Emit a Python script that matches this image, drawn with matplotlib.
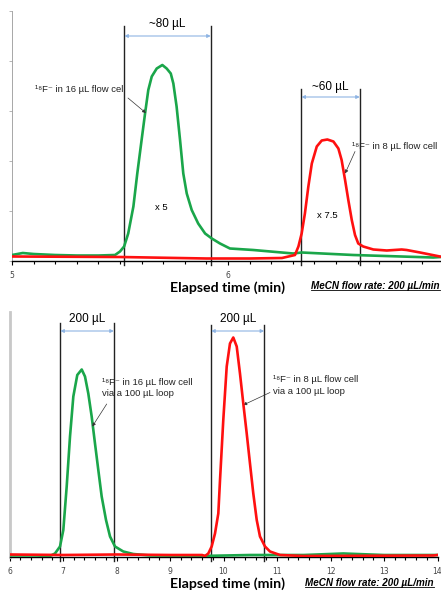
import numpy as np
import matplotlib
matplotlib.use("Agg")
import matplotlib.pyplot as plt
from matplotlib.lines import Line2D
from matplotlib.ticker import MultipleLocator

# ---- top panel: two flow cells (signal scaled x5 and x7.5) ----
top_green_t = [5.0, 5.05, 5.1, 5.2, 5.3, 5.4, 5.477, 5.500, 5.519, 5.538, 5.562, 5.580,
               5.600, 5.616, 5.631, 5.647, 5.670, 5.696, 5.716, 5.735, 5.747, 5.762,
               5.778, 5.793, 5.809, 5.832, 5.862, 5.894, 5.925, 5.963, 6.009, 6.117,
               6.302, 6.341, 6.580, 6.950, 6.986]
top_green_v = [0.12, 0.16, 0.14, 0.12, 0.11, 0.11, 0.12, 0.19, 0.29, 0.55, 1.09, 1.75,
               2.42, 2.95, 3.42, 3.69, 3.85, 3.92, 3.85, 3.75, 3.55, 3.09,
               2.42, 1.75, 1.35, 1.02, 0.75, 0.55, 0.45, 0.35, 0.25, 0.22,
               0.15, 0.17, 0.12, 0.07, 0.08]

top_red_t = [5.0, 5.5, 5.9, 6.1, 6.25, 6.310, 6.326, 6.341, 6.356, 6.372, 6.388, 6.411,
             6.434, 6.460, 6.488, 6.511, 6.526, 6.542, 6.557, 6.573, 6.588, 6.603,
             6.626, 6.673, 6.735, 6.804, 6.827, 6.889, 6.981]
top_red_v = [0.09, 0.08, 0.05, 0.05, 0.06, 0.12, 0.29, 0.55, 0.95, 1.49, 1.95, 2.29,
             2.41, 2.43, 2.39, 2.25, 2.02, 1.62, 1.22, 0.82, 0.52, 0.35,
             0.29, 0.23, 0.21, 0.23, 0.22, 0.17, 0.09]

# ---- bottom panel: via a 100 uL loop ----
bot_green_t = [6.0, 6.5, 6.757, 6.850, 6.944, 7.006, 7.069, 7.131, 7.193, 7.267, 7.350,
               7.411, 7.473, 7.536, 7.598, 7.660, 7.723, 7.804, 7.879, 7.972, 8.127,
               8.314, 8.626, 9.561, 10.5, 11.5, 12.24, 13.0, 14.0]
bot_green_v = [0.03, 0.03, 0.02, 0.07, 0.21, 0.54, 1.41, 2.41, 3.21, 3.64, 3.75,
               3.61, 3.27, 2.81, 2.27, 1.74, 1.21, 0.74, 0.41, 0.21, 0.11,
               0.06, 0.03, 0.02, 0.04, 0.04, 0.07, 0.04, 0.04]

bot_red_t = [6.0, 7.0, 8.0, 9.0, 9.6, 9.654, 9.716, 9.779, 9.841, 9.903, 9.935, 9.996,
             10.060, 10.121, 10.183, 10.247, 10.308, 10.370, 10.434, 10.495, 10.557,
             10.621, 10.682, 10.776, 10.869, 11.056, 11.492, 13.921, 14.0]
bot_red_v = [0.05, 0.04, 0.05, 0.04, 0.04, 0.02, 0.07, 0.21, 0.47, 0.87, 1.54, 2.74,
             3.81, 4.27, 4.39, 4.21, 3.67, 3.07, 2.47, 1.87, 1.27,
             0.74, 0.41, 0.21, 0.11, 0.04, 0.02, 0.03, 0.04]

# peak windows (start, end) in min, with their volume labels
top_windows = [(5.52, 5.92, "~80 µL"), (6.34, 6.61, "~60 µL")]
bot_windows = [(6.95, 7.95, "200 µL"), (9.77, 10.76, "200 µL")]

top_ticks = [5, 6]
bot_ticks = [6, 7, 8, 9, 10, 11, 12, 13, 14]

GREEN = "#1aa64a"
RED = "#ff1010"
ARROW_BLUE = "#8eb4e3"
TXT = ["Liberation Sans", "DejaVu Sans"]

fig = plt.figure(figsize=(4.41, 5.91), dpi=100)
W, H = 441.0, 591.0


def px_axes(left, right, top, bottom):
    return fig.add_axes([left / W, 1 - bottom / H, (right - left) / W, (bottom - top) / H])


def window(ax, t0, t1, label, ytop, yarrow, ylab):
    for t in (t0, t1):
        ax.plot([t, t], [-0.08, ytop], color="#222222", lw=1.0, clip_on=False, zorder=1)
    ax.annotate("", xy=(t0, yarrow), xytext=(t1, yarrow),
                arrowprops=dict(arrowstyle="<|-|>", color=ARROW_BLUE, lw=0.8,
                                mutation_scale=5, shrinkA=0, shrinkB=0))
    ax.text((t0 + t1) / 2, ylab, label, ha="center", va="center", fontsize=8.5, family=TXT)


def note(ax, text, xy_text, xy_from, xy_to):
    ax.text(xy_text[0], xy_text[1], text, ha="left", va="center", fontsize=6.8,
            family=TXT, color="#222222", linespacing=1.3)
    ax.annotate("", xy=xy_to, xytext=xy_from,
                arrowprops=dict(arrowstyle="-|>", color="#333333", lw=0.5,
                                mutation_scale=5, shrinkA=0, shrinkB=0))


def style_x(ax, ticks, minor):
    ax.spines["top"].set_visible(False)
    ax.spines["right"].set_visible(False)
    ax.spines["bottom"].set_color("black")
    ax.spines["bottom"].set_linewidth(1.0)
    ax.set_xticks(ticks)
    ax.xaxis.set_minor_locator(MultipleLocator(minor))
    ax.tick_params(axis="x", which="both", direction="out", length=3, width=0.8,
                   color="black", labelsize=5.5, labelcolor="#444444", pad=4)
    ax.tick_params(axis="x", which="minor", length=2.5)
    ax.patch.set_alpha(0)


# ---------------- top panel ----------------
ax1 = px_axes(12, 444, 11, 261)
ax1.plot(top_green_t, top_green_v, color=GREEN, lw=1.9, zorder=3)
ax1.plot(top_red_t, top_red_v, color=RED, lw=1.9, zorder=4)
ax1.set_xlim(5, 7)
ax1.set_ylim(0, 5)
style_x(ax1, top_ticks, 0.1)
ax1.spines["left"].set_color("#999999")
ax1.spines["left"].set_linewidth(0.6)
ax1.set_yticks([0, 1, 2, 3, 4, 5])
ax1.tick_params(axis="y", direction="out", length=2.5, width=0.5, color="#999999",
                labelleft=False)

window(ax1, top_windows[0][0], top_windows[0][1], top_windows[0][2], 4.7, 4.5, 4.74)
window(ax1, top_windows[1][0], top_windows[1][1], top_windows[1][2], 3.44, 3.28, 3.48)
note(ax1, "¹⁸F⁻ in 16 µL flow cell", (5.106, 3.42), (5.537, 3.26), (5.620, 2.96))
note(ax1, "¹⁸F⁻ in 8 µL flow cell", (6.573, 2.29), (6.588, 2.19), (6.542, 1.75))
ax1.text(5.69, 1.08, "x 5", ha="center", va="center", fontsize=6.8, family=TXT)
ax1.text(6.462, 0.92, "x 7.5", ha="center", va="center", fontsize=6.8, family=TXT)

# ---------------- bottom panel ----------------
ax2 = px_axes(9.5, 437.5, 312, 557)
ax2.plot(bot_green_t, bot_green_v, color=GREEN, lw=1.9, zorder=3)
ax2.plot(bot_red_t, bot_red_v, color=RED, lw=1.9, zorder=4)
ax2.set_xlim(6, 14)
ax2.set_ylim(0, 4.9)
style_x(ax2, bot_ticks, 0.2)
ax2.spines["left"].set_color("#c8c8c8")
ax2.spines["left"].set_linewidth(2.0)
ax2.set_yticks([])

window(ax2, bot_windows[0][0], bot_windows[0][1], bot_windows[0][2], 4.68, 4.52, 4.76)
window(ax2, bot_windows[1][0], bot_windows[1][1], bot_windows[1][2], 4.64, 4.52, 4.76)
note(ax2, "¹⁸F⁻ in 16 µL flow cell\nvia a 100 µL loop", (7.723, 3.38), (7.817, 3.06), (7.548, 2.61))
note(ax2, "¹⁸F⁻ in 8 µL flow cell\nvia a 100 µL loop", (10.931, 3.43), (10.869, 3.29), (10.370, 3.04))

# ---------------- axis titles and flow-rate notes ----------------
for y in (288, 584):
    fig.text(227 / W, 1 - y / H, "Elapsed time (min)", ha="center", va="center",
             fontsize=10.2, fontweight="bold", family=["Lato", "DejaVu Sans"])

flow_notes = []
for x, y in ((311, 286), (305, 583)):
    t = fig.text(x / W, 1 - y / H, "MeCN flow rate: 200 µL/min", ha="left", va="center",
                 fontsize=7.1, fontweight="bold", fontstyle="italic", family=TXT)
    flow_notes.append(t)

# underline the flow-rate notes
fig.canvas.draw()
r = fig.canvas.get_renderer()
for t in flow_notes:
    bb = t.get_window_extent(renderer=r)
    yline = (bb.y0 + 1.0) / H
    fig.add_artist(Line2D([bb.x0 / W, min(bb.x1, W - 1) / W], [yline, yline], color="black",
                          lw=0.6, transform=fig.transFigure))

fig.savefig("out.png", dpi=100)
